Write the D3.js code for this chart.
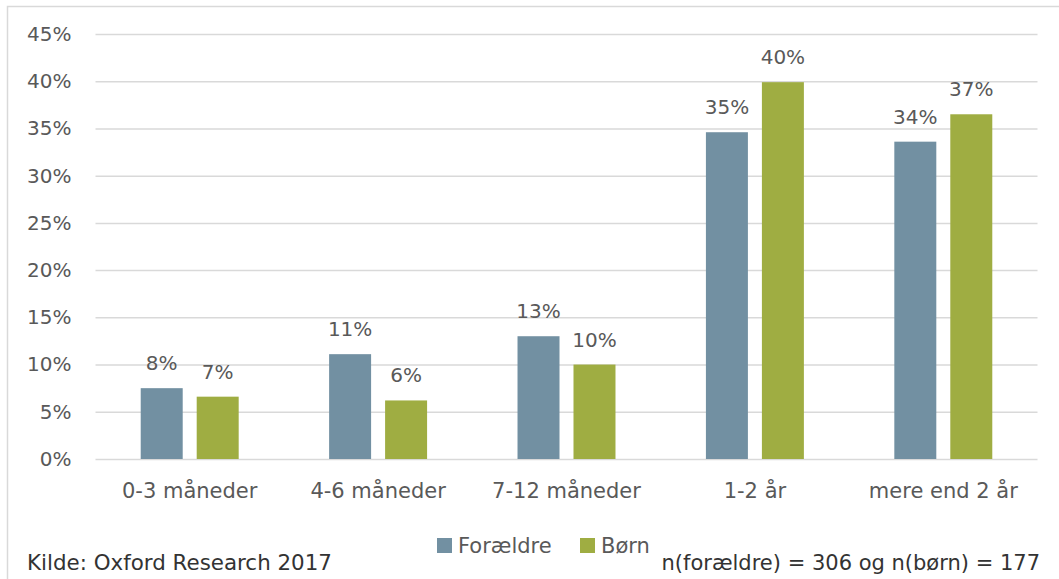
<!DOCTYPE html>
<html>
<head>
<meta charset="utf-8">
<script src="https://cdn.jsdelivr.net/npm/d3@7.9.0/dist/d3.min.js"></script>
<style>
    body { margin: 0; background: #fff; }
    svg text { font-family: 'DejaVu Sans', sans-serif; fill: #595959; }
</style>
</head>
<body>
<div id="chart"></div>
<script>
// values in percent
const categories = ['0-3 måneder', '4-6 måneder', '7-12 måneder', '1-2 år', 'mere end 2 år'];
const series = ['Forældre', 'Børn'];
const foraeldre = [7.5, 11.1, 13.0, 34.6, 33.6];
const boern = [6.6, 6.2, 10.0, 39.9, 36.5];
const yTicks = [0, 5, 10, 15, 20, 25, 30, 35, 40, 45];
const colors = ['#7290a2', '#9fad42'];
const source = 'Kilde: Oxford Research 2017';
const sampleNote = 'n(forældre) = 306 og n(børn) = 177';

const width = 1059;
const height = 579;

const rows = categories.map((c, i) => ({ category: c, values: [foraeldre[i], boern[i]] }));

const svg = d3.select('#chart')
    .append('svg')
    .attr('width', width)
    .attr('height', height)
    .attr('viewBox', `0 0 ${width} ${height}`);

// chart frame (only top and left edges show in the picture)
svg.append('path')
    .attr('d', `M7.5,${height} V6.5 H${width}`)
    .attr('fill', 'none')
    .attr('stroke', '#d9d9d9')
    .attr('stroke-width', 1.5);

const plot = { left: 95.5, right: 1037.5, top: 34, bottom: 459 };

const x0 = d3.scaleBand()
    .domain(categories)
    .range([plot.left, plot.right])
    .paddingInner(0.48)
    .paddingOuter(0.24);
const x1 = d3.scaleBand()
    .domain(series)
    .range([0, x0.bandwidth()])
    .paddingInner(0.25);
const y = d3.scaleLinear()
    .domain([0, 45])
    .range([plot.bottom, plot.top]);

// gridlines + y labels
const yAxis = svg.append('g')
    .attr('transform', `translate(${plot.left}, 0)`)
    .call(d3.axisLeft(y)
        .tickValues(yTicks)
        .tickFormat((d) => d + '%')
        .tickSize(-(plot.right - plot.left))
        .tickPadding(24));
yAxis.select('.domain').remove();
yAxis.selectAll('line').attr('stroke', '#d9d9d9').attr('stroke-width', 1.5);
yAxis.selectAll('text').style('font-size', '20px');

// x labels
const xAxis = svg.append('g')
    .attr('transform', `translate(0, ${plot.bottom})`)
    .call(d3.axisBottom(x0).tickSize(0).tickPadding(24));
xAxis.select('.domain').remove();
xAxis.selectAll('text').style('font-size', '21px');

// bars
const groups = svg.append('g')
    .selectAll('g')
    .data(rows)
    .join('g')
    .attr('transform', (d) => `translate(${x0(d.category)}, 0)`);

groups.selectAll('rect')
    .data((d) => d.values.map((v, i) => ({ key: series[i], value: v, i })))
    .join('rect')
    .attr('x', (d) => x1(d.key))
    .attr('y', (d) => y(d.value))
    .attr('width', x1.bandwidth())
    .attr('height', (d) => y(0) - y(d.value))
    .attr('fill', (d) => colors[d.i]);

// value labels
groups.selectAll('text')
    .data((d) => d.values.map((v, i) => ({ key: series[i], value: v })))
    .join('text')
    .attr('x', (d) => x1(d.key) + x1.bandwidth() / 2)
    .attr('y', (d) => y(d.value) - 18)
    .attr('text-anchor', 'middle')
    .style('font-size', '20px')
    .text((d) => Math.round(d.value) + '%');

// legend
const legend = svg.append('g')
    .attr('transform', 'translate(437, 538)');
const items = legend.selectAll('g')
    .data(series)
    .join('g')
    .attr('transform', (d, i) => `translate(${i * 143}, 0)`);
items.append('rect')
    .attr('width', 15)
    .attr('height', 15)
    .attr('fill', (d, i) => colors[i]);
items.append('text')
    .attr('x', 21)
    .attr('y', 15)
    .style('font-size', '21px')
    .text((d) => d);

// footer notes
svg.append('text')
    .attr('x', 27)
    .attr('y', 570)
    .style('font-size', '21.4px')
    .style('fill', '#333')
    .text(source);
svg.append('text')
    .attr('x', 1040)
    .attr('y', 570)
    .attr('text-anchor', 'end')
    .style('font-size', '21px')
    .style('fill', '#333')
    .text(sampleNote);
</script>
</body>
</html>
